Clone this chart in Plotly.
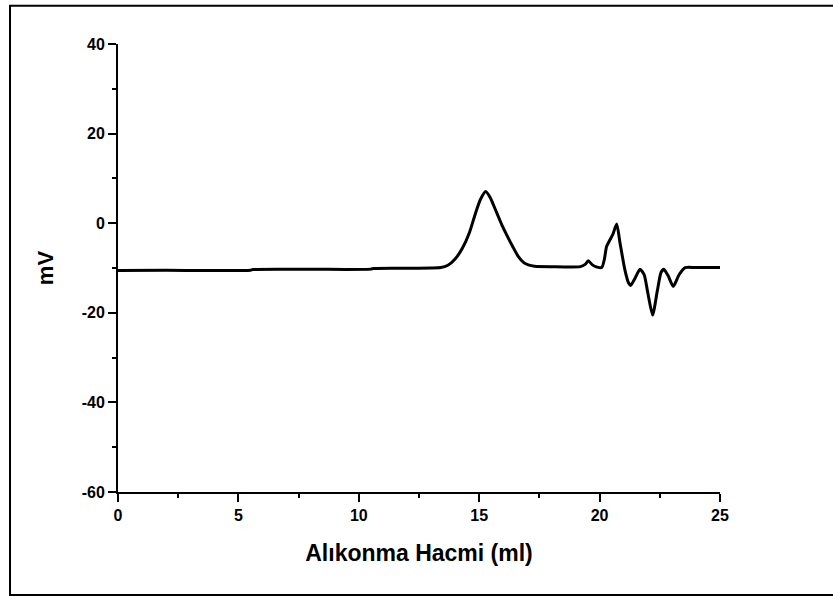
import plotly.graph_objects as go

# Retention volume (ml) and detector signal (mV)
volume_ml = [0.0, 2.0, 5.5, 5.6, 8.0, 10.5, 10.6, 12.0, 13.0, 13.4, 13.7, 14.0, 14.3, 14.6,
             14.85, 15.05, 15.27, 15.45, 15.73, 15.95, 16.14, 16.4, 16.62, 16.85, 17.04,
             17.3, 18.0, 19.2, 19.4, 19.53, 19.7, 19.9, 20.09, 20.2, 20.29, 20.43, 20.55,
             20.71, 20.85, 21.05, 21.2, 21.29, 21.45, 21.68, 21.85, 22.0, 22.2, 22.4, 22.55,
             22.67, 22.85, 23.06, 23.3, 23.55, 24.0, 25.0]
signal_mv = [-10.55, -10.53, -10.5, -10.35, -10.3, -10.25, -10.1, -10.05, -10.0, -9.9, -9.4,
             -8.0, -5.6, -2.0, 2.3, 5.3, 7.1, 5.8, 2.3, -0.5, -2.6, -5.3, -7.4, -8.8, -9.3,
             -9.6, -9.7, -9.7, -9.2, -8.4, -9.3, -9.8, -9.9, -8.0, -5.2, -3.7, -2.5, -0.2,
             -4.5, -10.4, -13.3, -13.9, -12.5, -10.3, -11.5, -15.5, -20.5, -15.0, -11.0,
             -10.3, -11.8, -14.1, -11.5, -9.9, -9.9, -9.9]

x_ticks = [0, 5, 10, 15, 20, 25]
y_ticks = [-60, -40, -20, 0, 20, 40]

FONT = "Liberation Sans, Arial, sans-serif"

fig = go.Figure()
fig.add_trace(go.Scatter(
    x=volume_ml, y=signal_mv, mode="lines",
    line=dict(color="black", width=3, shape="spline", smoothing=0.6),
    showlegend=False, hoverinfo="skip"))

axis_font = dict(family=FONT, size=16, color="black")
fig.update_layout(
    width=833, height=597,
    margin=dict(l=118, r=113, t=44, b=105),
    paper_bgcolor="white", plot_bgcolor="white",
    font=dict(family=FONT, color="black"),
    xaxis=dict(
        range=[0, 25], tickvals=x_ticks, ticktext=[f"<b>{v}</b>" for v in x_ticks],
        showgrid=False, zeroline=False, showline=True, linecolor="black", linewidth=2,
        ticks="outside", ticklen=8, tickwidth=2, tickcolor="black", tickfont=axis_font,
        minor=dict(ticks="outside", dtick=2.5, tick0=0, ticklen=4, tickwidth=2, tickcolor="black"),
        title=dict(text="<b>Alıkonma Hacmi (ml)</b>",
                   font=dict(family=FONT, size=23, color="black"),
                   standoff=22),
    ),
    yaxis=dict(
        range=[-60, 40], tickvals=y_ticks, ticktext=[f"<b>{v}</b>" for v in y_ticks],
        showgrid=False, zeroline=False, showline=True, linecolor="black", linewidth=2,
        ticks="outside", ticklen=8, tickwidth=2, tickcolor="black", tickfont=axis_font,
        minor=dict(ticks="outside", dtick=10, tick0=0, ticklen=4, tickwidth=2, tickcolor="black"),
        title=dict(text="<b>mV</b>",
                   font=dict(family=FONT, size=22, color="black"),
                   standoff=22),
    ),
    shapes=[dict(type="rect", xref="paper", yref="paper",
                 x0=-0.1794, x1=1.19, y0=-0.230, y1=1.0855,
                 line=dict(color="black", width=2), fillcolor="rgba(0,0,0,0)", layer="below")],
)

fig.write_html("out.html")
